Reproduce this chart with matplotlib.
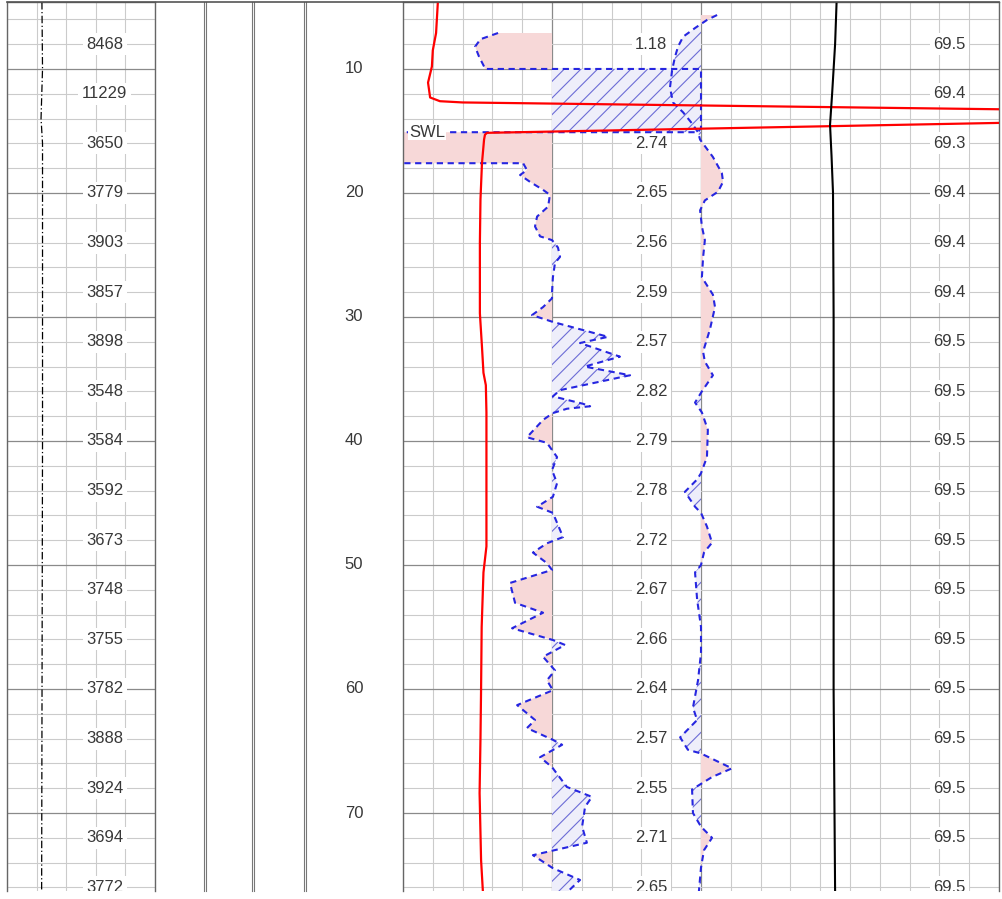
import matplotlib
matplotlib.use("Agg")
import matplotlib.pyplot as plt
import numpy as np
from matplotlib.lines import Line2D

plt.rcParams["font.family"] = ["Liberation Sans", "DejaVu Sans"]
plt.rcParams["hatch.linewidth"] = 0.8

W, H = 1002, 899
TOP_DEPTH, BOT_DEPTH = 4.60, 76.29

# ---- data -------------------------------------------------------------
label_depths = [8, 12, 16, 20, 24, 28, 32, 36, 40, 44, 48, 52, 56, 60, 64, 68, 72, 76]
track1_labels = ["8468", "11229", "3650", "3779", "3903", "3857", "3898", "3548", "3584",
                 "3592", "3673", "3748", "3755", "3782", "3888", "3924", "3694", "3772"]
mid_labels = ["1.18", "0.89", "2.74", "2.65", "2.56", "2.59", "2.57", "2.82", "2.79",
              "2.78", "2.72", "2.67", "2.66", "2.64", "2.57", "2.55", "2.71", "2.65"]
right_labels = ["69.5", "69.4", "69.3", "69.4", "69.4", "69.4", "69.5", "69.5", "69.5",
                "69.5", "69.5", "69.5", "69.5", "69.5", "69.5", "69.5", "69.5", "69.5"]
depth_ticks = [10, 20, 30, 40, 50, 60, 70]

# dash-dot curve, track 1 (0-5 scale)
dd_depth = [4.6, 10.0, 14.0, 16.0, 40.0, 76.3]
dd_value = [1.18, 1.2, 1.15, 1.2, 1.2, 1.17]

# red curve, main track (0-20 scale)
red_depth = [4.6, 7.1, 8.5, 9.8, 11.1, 12.3, 12.6, 12.7, 13.25, 13.4, 14.2, 14.35,
             15.15, 15.3, 15.7, 17.6, 20.5, 24.0, 28.0, 29.7, 32.4, 34.5, 35.5, 37.7,
             43.1, 48.5, 50.6, 55.0, 60.0, 64.0, 68.4, 73.8, 76.3]
red_value = [1.17, 1.11, 1.0, 0.97, 0.84, 0.91, 1.24, 2.0, 20.0, 22.0, 22.0, 20.0,
             2.82, 2.75, 2.72, 2.65, 2.6, 2.58, 2.58, 2.58, 2.65, 2.7, 2.78, 2.8,
             2.8, 2.8, 2.7, 2.64, 2.62, 2.6, 2.57, 2.62, 2.68]

# left blue dashed curve, baseline 5
a_base = 5.0
a_depth = [7.1, 7.6, 8.2, 9.0, 9.8, 10.0, 10.0, 14.75, 15.1, 15.1, 17.6, 17.6,
           18.15, 18.55, 19.1, 19.75, 20.15, 21.1, 21.9, 22.7, 23.5, 23.8, 24.4, 25.15,
           25.65, 26.8, 28.05, 28.5, 29.2, 29.85, 30.4, 31.6, 32.1, 33.2, 34.0, 34.7,
           35.9, 36.4, 37.0, 37.2, 37.4, 37.75, 38.3, 39.7, 40.15, 41.3, 42.35, 43.4,
           44.5, 45.3, 45.8, 47.75, 48.25, 49.0, 49.85, 50.4, 51.45, 53.05, 53.85, 55.1,
           56.05, 56.45, 57.4, 58.5, 59.3, 60.1, 61.3, 62.5, 63.15, 64.1, 64.5, 65.5,
           66.3, 67.9, 68.7, 69.5, 71.1, 72.4, 73.4, 74.45, 75.4, 76.4]
a_value = [3.19, 2.6, 2.42, 2.55, 2.72, 2.75, 10.0, 10.0, 9.9, -0.2, -0.2, 4.03,
           4.16, 3.93, 4.26, 4.70, 4.93, 4.87, 4.50, 4.43, 4.60, 5.0, 5.2, 5.27,
           5.1, 5.03, 5.0, 5.0, 4.7, 4.33, 5.03, 6.88, 5.94, 7.28, 6.1, 7.62,
           5.27, 5.03, 6.04, 6.28, 5.5, 5.03, 4.70, 4.16, 4.83, 5.17, 5.0, 5.17,
           5.03, 4.50, 5.03, 5.37, 4.83, 4.36, 4.83, 5.0, 3.59, 3.76, 4.70, 3.66,
           5.03, 5.44, 4.70, 5.10, 4.83, 5.03, 3.83, 4.43, 4.16, 5.03, 5.34, 4.60,
           5.0, 5.50, 6.34, 6.11, 6.01, 6.17, 4.36, 5.03, 5.94, 5.5]

# right blue dashed curve, baseline 10
b_base = 10.0
b_depth = [5.65, 6.05, 6.7, 7.4, 8.2, 9.0, 10.1, 11.5, 12.7, 13.5, 14.4, 15.1, 15.7,
           17.1, 18.4, 19.1, 19.9, 20.6, 21.4, 22.7, 23.8, 25.2, 26.8, 28.2, 29.2,
           31.0, 32.8, 33.6, 34.7, 36.0, 36.9, 37.7, 39.1, 41.3, 42.6, 43.1, 44.1,
           45.3, 45.8, 46.9, 48.2, 49.0, 50.0, 50.6, 52.8, 55.0, 57.1, 59.3, 61.5,
           62.5, 63.9, 64.9, 65.2, 66.4, 67.1, 68.1, 70.0, 71.1, 72.0, 73.0, 74.4, 76.3]
b_value = [10.54, 10.2, 9.8, 9.4, 9.23, 9.13, 9.03, 8.96, 9.06, 9.4, 9.7, 9.9, 9.97,
           10.4, 10.7, 10.74, 10.57, 10.13, 9.97, 10.03, 10.13, 10.07, 10.03, 10.4, 10.47,
           10.3, 10.07, 10.13, 10.4, 10.03, 9.8, 10.03, 10.23, 10.2, 10.0, 9.87, 9.46,
           9.8, 10.0, 10.2, 10.37, 10.1, 10.0, 9.8, 9.87, 10.0, 10.0, 9.9, 9.73,
           9.87, 9.3, 9.56, 10.0, 11.04, 10.37, 9.7, 9.73, 10.0, 10.37, 10.1, 10.0, 9.93]

# black curve, main track
k_depth = [4.6, 8.0, 12.0, 14.5, 17.0, 20.0, 30.0, 40.0, 50.0, 60.0, 70.0, 76.3]
k_value = [14.55, 14.5, 14.4, 14.33, 14.38, 14.43, 14.45, 14.45, 14.45, 14.45, 14.48, 14.5]

swl_depth = 15.1

PINK = "#f7d8d8"
HATCH_FC = "#eeeefa"
HATCH_EC = "#6c6cd6"
BLUE = "#2626e0"
TXT = "#383838"
MINOR = "#cbcbcb"
MAJOR = "#8a8a8a"
FS = 12


def px_axes(x0, x1, y0=2, y1=891):
    return fig.add_axes([x0 / W, (H - y1) / H, (x1 - x0) / W, (y1 - y0) / H])


def style_track(ax, xmax, nx, major_x=()):
    ax.set_xlim(0, xmax)
    ax.set_ylim(BOT_DEPTH, TOP_DEPTH)
    ax.set_xticks(np.arange(0, xmax + 0.1, xmax / nx), minor=True)
    ax.set_xticks(list(major_x))
    ax.set_yticks(np.arange(6, 77, 2), minor=True)
    ax.set_yticks(np.arange(10, 77, 10))
    ax.grid(which="minor", color=MINOR, lw=0.8, zorder=0)
    ax.grid(which="major", color=MAJOR, lw=0.9, zorder=0)
    ax.set_axisbelow(True)
    ax.tick_params(which="both", length=0, labelleft=False, labelbottom=False)
    ax.spines["bottom"].set_visible(False)
    for s in ("top", "left", "right"):
        ax.spines[s].set_color("#666666")
        ax.spines[s].set_linewidth(1.0)


def label(ax, x, d, s, **kw):
    t = ax.text(x, d, s, ha="center", va="center", fontsize=FS, color=TXT,
                bbox=dict(fc="white", ec="none", pad=2.5), **kw)
    t.set_clip_on(True)
    return t


fig = plt.figure(figsize=(W / 100, H / 100), dpi=100)

# ---- track 1 ----------------------------------------------------------
ax1 = px_axes(7, 155)
style_track(ax1, 5, 5)
ax1.plot(dd_value, dd_depth, color="black", lw=0.9, dashes=(6, 2, 1, 2), zorder=3)
for d, lab in zip(label_depths, track1_labels):
    label(ax1, 3.3, d, lab, zorder=2)

# ---- depth track ------------------------------------------------------
axd = px_axes(305, 403)
axd.set_xlim(0, 1)
axd.set_ylim(BOT_DEPTH, TOP_DEPTH)
axd.axis("off")
for d in depth_ticks:
    axd.text(0.5, d, str(d), ha="center", va="center", fontsize=FS, color=TXT)

# ---- main track -------------------------------------------------------
axm = px_axes(403, 999)
style_track(axm, 20, 20, major_x=(5, 10))

for d, lab in zip(label_depths, mid_labels):
    label(axm, 8.33, d, lab, zorder=1.5)
for d, lab in zip(label_depths, right_labels):
    label(axm, 18.33, d, lab, zorder=1.5)

a_d, a_v = np.array(a_depth), np.array(a_value)
b_d, b_v = np.array(b_depth), np.array(b_value)

axm.fill_betweenx(a_d, a_v, a_base, where=a_v < a_base, interpolate=True,
                  color=PINK, lw=0, zorder=2)
axm.fill_betweenx(a_d, a_v, a_base, where=a_v > a_base, interpolate=True,
                  facecolor=HATCH_FC, edgecolor=HATCH_EC, hatch="//", lw=0, zorder=2)
axm.fill_betweenx(b_d, b_v, b_base, where=b_v > b_base, interpolate=True,
                  color=PINK, lw=0, zorder=2)
axm.fill_betweenx(b_d, b_v, b_base, where=b_v < b_base, interpolate=True,
                  facecolor=HATCH_FC, edgecolor=HATCH_EC, hatch="//", lw=0, zorder=2)

axm.plot(a_v, a_d, color=BLUE, lw=1.5, dashes=(3.0, 2.2), zorder=4)
axm.plot(b_v, b_d, color=BLUE, lw=1.5, dashes=(3.0, 2.2), zorder=4)
axm.plot(red_value, red_depth, color="#ff0000", lw=1.6, zorder=5)
axm.plot(k_value, k_depth, color="black", lw=1.5, zorder=5)

axm.text(0.2, swl_depth, "SWL", ha="left", va="center", fontsize=FS, color=TXT, zorder=6,
         bbox=dict(fc="white", ec="none", pad=0.5))

# ---- frame lines between tracks ----------------------------------------
for x in (205, 253, 305):
    for dx in (-1.2, 1.2):
        fig.add_artist(Line2D([(x + dx) / W] * 2, [(H - 891) / H, (H - 2) / H],
                              color="#777777", lw=0.8))
fig.add_artist(Line2D([7 / W, 999 / W], [(H - 1.5) / H] * 2, color="#555555", lw=1.2))

fig.savefig("out.png", dpi=100, facecolor="white")
